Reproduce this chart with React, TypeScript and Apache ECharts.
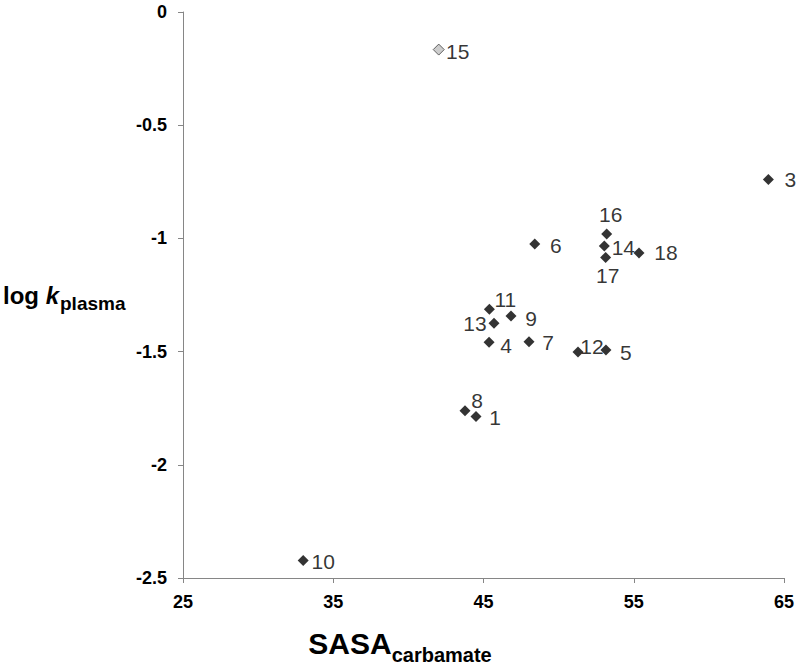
import React, { useEffect, useRef } from "react";
import * as echarts from "echarts";

const ids = ["1", "3", "4", "5", "6", "7", "8", "9", "10", "11", "12", "13", "14", "15", "16", "17", "18"];
const sasa = [44.5, 63.96, 45.37, 53.15, 48.41, 48.03, 43.77, 46.83, 33.0, 45.39, 51.29, 45.7, 53.04, 42.02, 53.2, 53.13, 55.35];
const logk = [-1.787, -0.74, -1.459, -1.493, -1.025, -1.456, -1.761, -1.343, -2.423, -1.313, -1.502, -1.375, -1.034, -0.166, -0.981, -1.084, -1.064];
const highlighted = ["15"];

const xTicks = { min: 25, max: 65, interval: 10 };
const yTicks = { min: -2.5, max: 0, interval: 0.5 };

// label centre offsets relative to each marker (px)
const labelOffsets: Record<string, [number, number]> = {
  "1": [19, 1],
  "3": [22, 0],
  "4": [17, 3],
  "5": [20, 2],
  "6": [21, 1],
  "7": [19, 1],
  "8": [12, -10],
  "9": [20, 2],
  "10": [20, 1],
  "11": [16, -10],
  "12": [14, -6],
  "13": [-19, 0],
  "14": [19, 1],
  "15": [19, 2],
  "16": [4, -20],
  "17": [2, 18],
  "18": [27, 0],
};

const FONT = "Arial, 'Liberation Sans', sans-serif";

export default function App() {
  const ref = useRef<HTMLDivElement>(null);
  useEffect(() => {
    if (!ref.current) return;
    const chart = echarts.init(ref.current, undefined, { renderer: "svg" });
    const data = ids.map((id, i) => {
      const isHi = highlighted.includes(id);
      return {
        name: id,
        value: [sasa[i], logk[i]],
        itemStyle: isHi
          ? { color: "#c0c0c0", borderColor: "#404040", borderWidth: 1 }
          : { color: "#000000" },
        label: { offset: labelOffsets[id] },
      };
    });
    chart.setOption({
      animation: false,
      backgroundColor: "#ffffff",
      grid: { left: 183, right: 16, top: 12, bottom: 89, containLabel: false },
      xAxis: {
        type: "value",
        min: xTicks.min,
        max: xTicks.max,
        interval: xTicks.interval,
        splitLine: { show: false },
        axisLine: { show: true, onZero: false, lineStyle: { color: "#868686", width: 1 } },
        axisTick: { show: true, inside: false, length: 5, lineStyle: { color: "#868686" } },
        axisLabel: {
          margin: 15,
          fontFamily: FONT,
          fontWeight: "bold",
          fontSize: 18,
          color: "#000",
        },
      },
      yAxis: {
        type: "value",
        min: yTicks.min,
        max: yTicks.max,
        interval: yTicks.interval,
        splitLine: { show: false },
        axisLine: { show: true, onZero: false, lineStyle: { color: "#868686", width: 1 } },
        axisTick: { show: true, inside: false, length: 5, lineStyle: { color: "#868686" } },
        axisLabel: {
          margin: 16,
          fontFamily: FONT,
          fontWeight: "bold",
          fontSize: 18,
          color: "#000",
        },
      },
      graphic: [
        {
          type: "text",
          left: 3,
          top: 283,
          style: {
            text: "{a|log }{k|k}{b|plasma}",
            fill: "#000",
            rich: {
              a: { fontFamily: FONT, fontWeight: "bold", fontSize: 24, verticalAlign: "bottom", padding: [0, 0, 6, 0] },
              k: { fontFamily: FONT, fontWeight: "bold", fontStyle: "italic", fontSize: 24, verticalAlign: "bottom", padding: [0, 1, 6, 0] },
              b: { fontFamily: FONT, fontWeight: "bold", fontSize: 19, verticalAlign: "bottom" },
            },
          },
        },
        {
          type: "text",
          left: "center",
          top: 628,
          style: {
            text: "{a|SASA}{b|carbamate}",
            fill: "#000",
            rich: {
              a: { fontFamily: FONT, fontWeight: "bold", fontSize: 30, verticalAlign: "bottom", padding: [0, 0, 7, 0] },
              b: { fontFamily: FONT, fontWeight: "bold", fontSize: 20, verticalAlign: "bottom" },
            },
          },
        },
      ],
      series: [
        {
          type: "scatter",
          symbol: "diamond",
          symbolSize: 11,
          data,
          label: {
            show: true,
            position: "inside",
            formatter: "{b}",
            fontFamily: FONT,
            fontSize: 21,
            color: "#000",
          },
          emphasis: { disabled: true },
        },
      ],
    });
    return () => chart.dispose();
  }, []);
  return <div ref={ref} style={{ width: 800, height: 667, position: "absolute", left: 0, top: 0 }} />;
}
